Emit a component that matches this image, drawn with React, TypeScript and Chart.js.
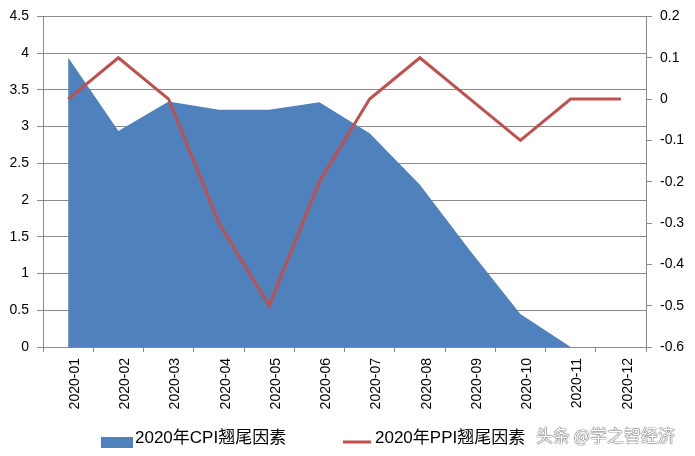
import React, { useEffect, useRef } from 'react';
import { Chart, registerables } from 'chart.js';

Chart.register(...registerables);

const categories = [
  '2020-01', '2020-02', '2020-03', '2020-04', '2020-05', '2020-06',
  '2020-07', '2020-08', '2020-09', '2020-10', '2020-11', '2020-12',
];
const cpiValues: (number | null)[] = [3.94, 2.94, 3.34, 3.23, 3.23, 3.33, 2.91, 2.21, 1.31, 0.45, 0, null];
const ppiValues: number[] = [0, 0.1, 0, -0.3, -0.5, -0.2, 0, 0.1, 0, -0.1, 0, 0];
const seriesNames = ['2020年CPI翘尾因素', '2020年PPI翘尾因素'];
const leftTicks = [0, 0.5, 1, 1.5, 2, 2.5, 3, 3.5, 4, 4.5];
const rightTicks = [-0.6, -0.5, -0.4, -0.3, -0.2, -0.1, 0, 0.1, 0.2];
const watermark = '头条 @学之智经济';

const FONT = '"Liberation Sans", "Noto Sans CJK SC", sans-serif';
const GRID = '#8a8a8a';
const CPI_COLOR = '#4F81BD';
const PPI_COLOR = '#C0504D';

const fmt = (v: number) => String(Math.round(v * 10) / 10);

// Legend drawn on the chart canvas from the datasets' own labels and colours.
const legendPlugin = {
  id: 'excelLegend',
  afterDraw(chart: any) {
    const ctx = chart.ctx;
    const ds = chart.data.datasets;
    ctx.save();
    ctx.font = `17px ${FONT}`;
    ctx.textBaseline = 'middle';
    ctx.textAlign = 'left';
    ctx.fillStyle = ds[0].backgroundColor;
    ctx.fillRect(101, 437, 32, 11);
    ctx.fillStyle = '#000';
    ctx.fillText(ds[0].label, 135, 438);
    ctx.strokeStyle = ds[1].borderColor;
    ctx.lineWidth = 3;
    ctx.beginPath();
    ctx.moveTo(343, 442);
    ctx.lineTo(371, 442);
    ctx.stroke();
    ctx.fillStyle = '#000';
    ctx.fillText(ds[1].label, 375, 438);
    ctx.restore();
  },
};

export default function App() {
  const ref = useRef<HTMLCanvasElement | null>(null);

  useEffect(() => {
    if (!ref.current) return;
    const tickFont = { family: FONT, size: 14 };
    const chart = new Chart(ref.current, {
      type: 'line',
      data: {
        labels: categories,
        datasets: [
          {
            label: seriesNames[0],
            data: cpiValues,
            yAxisID: 'y',
            fill: 'origin',
            backgroundColor: CPI_COLOR,
            borderColor: CPI_COLOR,
            borderWidth: 0,
            pointRadius: 0,
            tension: 0,
            order: 2,
          },
          {
            label: seriesNames[1],
            data: ppiValues,
            yAxisID: 'y1',
            fill: false,
            backgroundColor: PPI_COLOR,
            borderColor: PPI_COLOR,
            borderWidth: 3,
            pointRadius: 0,
            tension: 0,
            order: 1,
          },
        ],
      },
      options: {
        responsive: false,
        animation: false,
        events: [],
        layout: { padding: { top: 15, right: 0, left: 0, bottom: 34 } },
        plugins: {
          tooltip: { enabled: false },
          legend: { display: false },
        },
        scales: {
          x: {
            type: 'category',
            offset: true,
            grid: {
              display: true,
              drawOnChartArea: false,
              drawTicks: true,
              tickLength: 5,
              offset: true,
              color: GRID,
            },
            border: { display: true, color: GRID },
            ticks: {
              autoSkip: false,
              minRotation: 90,
              maxRotation: 90,
              padding: 6,
              labelOffset: 7,
              color: '#000',
              font: tickFont,
            },
            afterFit: (s: any) => {
              s.height = 75;
            },
          },
          y: {
            position: 'left',
            min: 0,
            max: 4.5,
            afterBuildTicks: (s: any) => {
              s.ticks = leftTicks.map((v) => ({ value: v }));
            },
            grid: { color: GRID, drawTicks: true, tickLength: 6 },
            border: { display: true, color: GRID },
            ticks: {
              padding: 8,
              color: '#000',
              font: tickFont,
              callback: (v: any) => fmt(Number(v)),
            },
            afterFit: (s: any) => {
              s.width = 43;
            },
          },
          y1: {
            position: 'right',
            min: -0.6,
            max: 0.2,
            afterBuildTicks: (s: any) => {
              s.ticks = rightTicks.map((v) => ({ value: v }));
            },
            grid: { drawOnChartArea: false, drawTicks: true, tickLength: 6, color: GRID },
            border: { display: true, color: GRID },
            ticks: {
              padding: 8,
              color: '#000',
              font: tickFont,
              callback: (v: any) => fmt(Number(v)),
            },
            afterFit: (s: any) => {
              s.width = 49;
            },
          },
        },
      } as any,
      plugins: [legendPlugin],
    });
    return () => chart.destroy();
  }, []);

  return (
    <div
      style={{
        position: 'fixed',
        left: 0,
        top: 0,
        width: 695,
        height: 456,
        background: '#fff',
        overflow: 'hidden',
      }}
    >
      <canvas ref={ref} width={695} height={456} style={{ display: 'block' }} />
      <div
        style={{
          position: 'absolute',
          left: 536,
          top: 425,
          fontFamily: '"Noto Sans CJK SC", sans-serif',
          fontSize: 17,
          lineHeight: '20px',
          color: '#fff',
          textShadow: '0 0 1px #555, 0 0 1px #555, 0 0 1px #555',
          whiteSpace: 'nowrap',
        }}
      >
        {watermark}
      </div>
    </div>
  );
}
